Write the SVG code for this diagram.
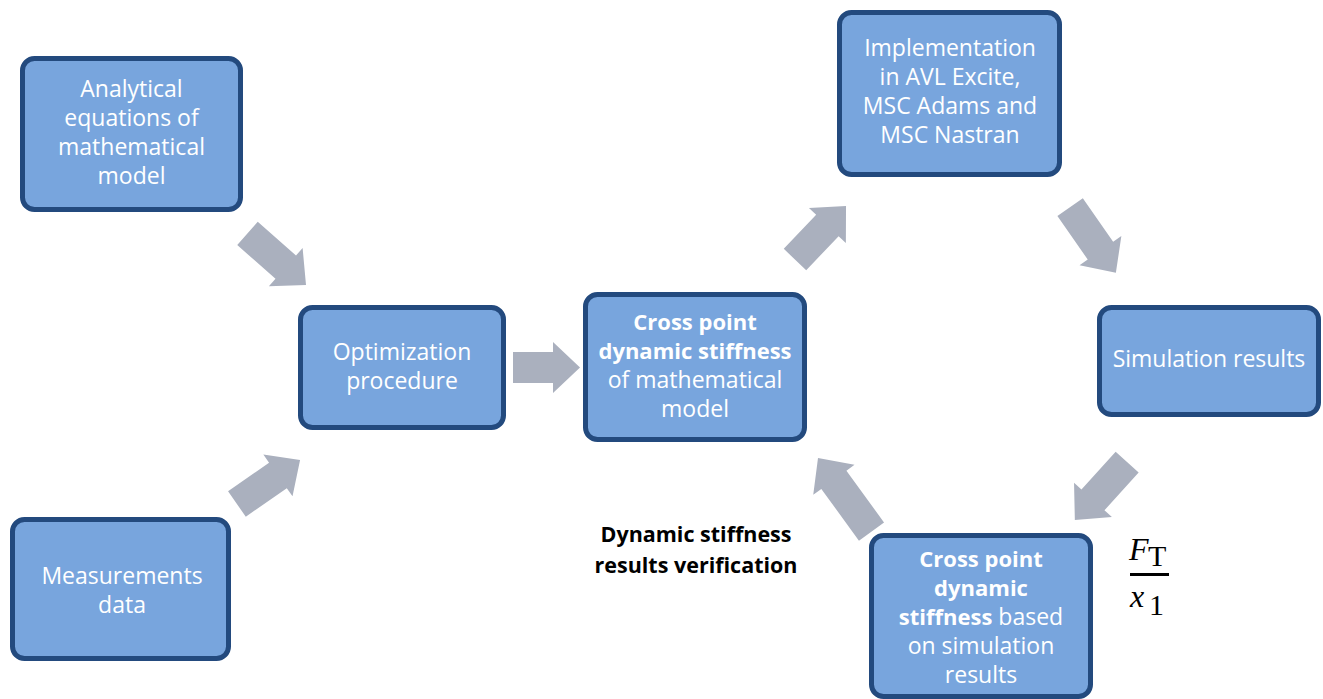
<svg xmlns="http://www.w3.org/2000/svg" width="1323" height="699" viewBox="0 0 1323 699">
<style>
.box{fill:#78A5DD;stroke:#234A7E;stroke-width:5}
.t{font-family:"Open Sans","Liberation Sans",sans-serif;font-size:23px;fill:#fff;text-anchor:middle}
.b{font-weight:bold;font-size:22px}
.arr{fill:#AAB0BE}
.lbl{font-family:"Open Sans","Liberation Sans",sans-serif;font-size:21.5px;font-weight:bold;fill:#000;text-anchor:middle}
.m{font-family:"Liberation Serif","DejaVu Serif",serif;fill:#000}
</style>
<rect width="1323" height="699" fill="#fff"/>
<g id="connectors">
<path class="arr" transform="translate(276.75,259.25) rotate(41.4)" d="M-39,-15.5 H12 V-25.5 L39,0 L12,25.5 V15.5 H-39 Z"/>
<path class="arr" transform="translate(268.5,482) rotate(-34.9)" d="M-38.5,-15.5 H11.5 V-25.5 L38.5,0 L11.5,25.5 V15.5 H-38.5 Z"/>
<path class="arr" transform="translate(546.5,367.5)" d="M-33.5,-15.5 H6.5 V-25.5 L33.5,0 L6.5,25.5 V15.5 H-33.5 Z"/>
<path class="arr" transform="translate(820.5,232.75) rotate(-46.4)" d="M-37,-15.5 H10 V-25.5 L37,0 L10,25.5 V15.5 H-37 Z"/>
<path class="arr" transform="translate(1093,240) rotate(55.1)" d="M-40,-15.5 H13 V-25.5 L40,0 L13,25.5 V15.5 H-40 Z"/>
<path class="arr" transform="translate(1101,491) rotate(132.1)" d="M-39,-15.5 H12 V-25.5 L39,0 L12,25.5 V15.5 H-39 Z"/>
<path class="arr" transform="translate(844.75,494.75) rotate(-126)" d="M-45.5,-15.5 H18.5 V-25.5 L45.5,0 L18.5,25.5 V15.5 H-45.5 Z"/>
</g>
<g id="analytical">
<rect class="box" x="22.5" y="58.5" width="218" height="151" rx="12"/>
<text class="t" x="131.5" y="97">Analytical</text>
<text class="t" x="131.5" y="126">equations of</text>
<text class="t" x="131.5" y="155">mathematical</text>
<text class="t" x="131.5" y="184">model</text>
</g>
<g id="measurements">
<rect class="box" x="12.5" y="519.5" width="216" height="139" rx="12"/>
<text class="t" x="122" y="584">Measurements</text>
<text class="t" x="122" y="613">data</text>
</g>
<g id="optimization">
<rect class="box" x="300.5" y="307.5" width="203" height="120" rx="12"/>
<text class="t" x="402" y="360">Optimization</text>
<text class="t" x="402" y="389">procedure</text>
</g>
<g id="crosspoint-model">
<rect class="box" x="585.5" y="294.5" width="219" height="145" rx="12"/>
<text class="t b" x="695" y="330">Cross point</text>
<text class="t b" x="695" y="359">dynamic stiffness</text>
<text class="t" x="695" y="388">of mathematical</text>
<text class="t" x="695" y="417">model</text>
</g>
<g id="implementation">
<rect class="box" x="839.5" y="12.5" width="220" height="162" rx="12"/>
<text class="t" x="950" y="56">Implementation</text>
<text class="t" x="950" y="85">in AVL Excite,</text>
<text class="t" x="950" y="114">MSC Adams and</text>
<text class="t" x="950" y="143">MSC Nastran</text>
</g>
<g id="simulation">
<rect class="box" x="1099.5" y="307.5" width="219" height="107" rx="12"/>
<text class="t" x="1209" y="367">Simulation results</text>
</g>
<g id="crosspoint-sim">
<rect class="box" x="871.5" y="535.5" width="219" height="161" rx="12"/>
<text class="t b" x="981" y="567">Cross point</text>
<text class="t b" x="981" y="596">dynamic</text>
<text class="t" x="981" y="625"><tspan font-weight="bold" font-size="22">stiffness</tspan> based</text>
<text class="t" x="981" y="654">on simulation</text>
<text class="t" x="981" y="683">results</text>
</g>
<g id="label">
<text class="lbl" x="696" y="542">Dynamic stiffness</text>
<text class="lbl" x="696" y="573">results verification</text>
</g>
<g id="formula">
<text class="m" x="1129" y="560" font-size="32" font-style="italic">F</text>
<text class="m" x="1148" y="566" font-size="30">T</text>
<rect x="1130" y="573" width="39" height="3" fill="#000"/>
<text class="m" x="1130" y="607" font-size="32" font-style="italic">x</text>
<text class="m" x="1149" y="615" font-size="30">1</text>
</g>
</svg>
